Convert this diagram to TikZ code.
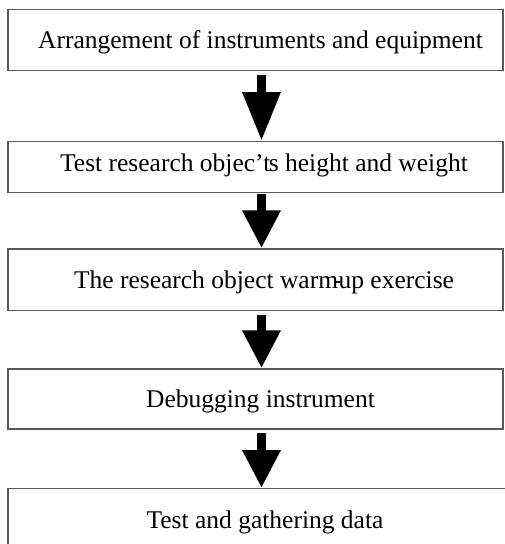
\documentclass[tikz,border=0pt]{standalone}
\usepackage{fontspec}
\setmainfont{Liberation Serif}
\usetikzlibrary{arrows.meta}
\tikzset{
  stepbox/.style={draw=black!65, line width=1.3pt, fill=none, inner sep=0pt, minimum width=495pt},
  steptext/.style={anchor=base, inner sep=0pt, font=\fontsize{25.5}{30}\selectfont},
  bigarrow/.style={line width=9.4pt, black, -{Triangle[width=36pt,length=38pt]}},
  bigarrowlong/.style={line width=9.4pt, black, -{Triangle[width=36pt,length=49pt]}}
}
\begin{document}
\begin{tikzpicture}[x=1pt,y=1pt]
\useasboundingbox (0,0) rectangle (505,544);
\clip (0,0) rectangle (505,544);
\fill[white] (0,0) rectangle (505,544);
% boxes
\node[stepbox, minimum height=61.4pt] (b1) at (255.5,504) {};
\node[stepbox, minimum height=51pt] (b2) at (255.5,376.8) {};
\node[stepbox, minimum height=61.7pt] (b3) at (255.5,264.15) {};
\node[stepbox, minimum height=60pt] (b4) at (255.5,145) {};
\node[stepbox, minimum height=61.3pt, minimum width=512pt] (b5) at (264,24.65) {};
% texts
\node[steptext] (t1) at (260.5,495) {Arrangement of instruments and equipment};
\node[steptext] (t2) at (264,372.3) {Test research objec't\kern-1.5pt s height and weight};
\node[steptext] (t3) at (264,255) {The research object warm\kern-5pt-\kern-3pt up exercise};
\node[steptext] (t4) at (260.5,136.5) {Debugging instrument};
\node[steptext] (t5) at (265,15.7) {Test and gathering data};
% arrows
\coordinate (ax) at (261.5,0);
\draw[bigarrowlong, shorten <=3.3pt] (b1.south -| ax) -- (b2.north -| ax);
\draw[bigarrow, shorten <=0.6pt] (b2.south -| ax) -- (b3.north -| ax);
\draw[bigarrow, shorten <=3.6pt] (b3.south -| ax) -- (b4.north -| ax);
\draw[bigarrow, shorten <=3.3pt] (b4.south -| ax) -- (b5.north -| ax);
\end{tikzpicture}
\end{document}
